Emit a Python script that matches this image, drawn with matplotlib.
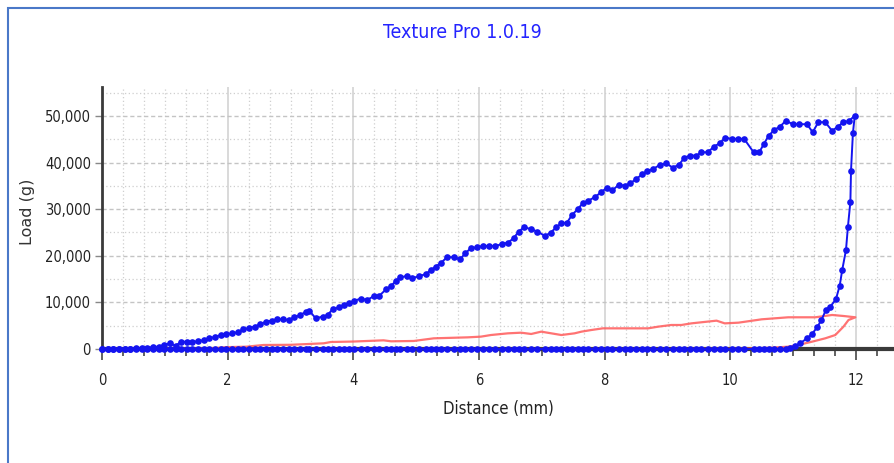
import matplotlib
matplotlib.use("Agg")
import matplotlib.pyplot as plt
from matplotlib import font_manager
from matplotlib.patches import Rectangle
from matplotlib.ticker import MultipleLocator, FuncFormatter

# blue curve, forward stroke (distance mm, load g)
fwd_dist = [0.00, 0.09, 0.18, 0.27, 0.36, 0.45, 0.54, 0.63, 0.72, 0.81, 0.90, 0.99,
            1.08, 1.17, 1.26, 1.35, 1.44, 1.53, 1.62, 1.71, 1.80, 1.89, 1.98, 2.07,
            2.16, 2.25, 2.34, 2.43, 2.52, 2.61, 2.70, 2.79, 2.88, 2.97, 3.06, 3.15,
            3.24, 3.30, 3.40, 3.51, 3.59, 3.67, 3.77, 3.85, 3.93, 4.01, 4.12, 4.22,
            4.33, 4.41, 4.52, 4.60, 4.68, 4.75, 4.86, 4.94, 5.05, 5.15, 5.23, 5.31,
            5.40, 5.49, 5.60, 5.70, 5.78, 5.87, 5.96, 6.06, 6.16, 6.26, 6.37, 6.46,
            6.55, 6.63, 6.72, 6.83, 6.93, 7.05, 7.14, 7.23, 7.31, 7.40, 7.48, 7.57,
            7.65, 7.74, 7.84, 7.94, 8.03, 8.12, 8.22, 8.32, 8.41, 8.50, 8.60, 8.68,
            8.77, 8.88, 8.98, 9.08, 9.18, 9.27, 9.36, 9.46, 9.54, 9.64, 9.74, 9.83,
            9.92, 10.02, 10.12, 10.22, 10.37, 10.46, 10.53, 10.61, 10.70, 10.79, 10.88,
            11.00, 11.09, 11.22, 11.31, 11.40, 11.51, 11.62, 11.71, 11.80, 11.89, 11.98]
fwd_load = [0, 0, 0, 100, 100, 100, 150, 200, 300, 400, 500, 900,
            1200, 700, 1550, 1570, 1570, 1650, 1900, 2300, 2600, 3000, 3150, 3350,
            3600, 4200, 4500, 4800, 5300, 5870, 6100, 6370, 6370, 6220, 6800, 7300,
            7900, 8220, 6580, 6940, 7300, 8510, 8940, 9440, 9800, 10360, 10790, 10520,
            11370, 11370, 12800, 13520, 14650, 15380, 15670, 15170, 15670, 16030, 16900, 17670,
            18530, 19680, 19680, 19250, 20540, 21610, 21820, 22100, 22100, 22100, 22530, 22820,
            23750, 25180, 26120, 25690, 25180, 24250, 24970, 26120, 26970, 27110, 28760, 29980,
            31270, 31830, 32550, 33580, 34570, 34000, 35190, 35050, 35550, 36480, 37480, 38200,
            38630, 39490, 39840, 38910, 39490, 41060, 41490, 41490, 42200, 42200, 43420, 44130,
            45350, 45060, 45060, 45060, 42200, 42200, 43920, 45770, 47000, 47710, 48930,
            48220, 48220, 48220, 46500, 48650, 48650, 46780, 47710, 48650, 48930, 50070]

# blue curve, return stroke: steep drop then flat zero back to start
ret_dist = [11.95, 11.92, 11.91, 11.87, 11.84, 11.78, 11.74, 11.68, 11.59, 11.52,
            11.45, 11.38, 11.30, 11.22, 11.11, 11.03, 10.95]
ret_load = [46300, 38260, 31600, 26100, 21240, 16950, 13590, 10670, 9080, 8370,
            6220, 4650, 3220, 2290, 1220, 640, 280]
flat_dist = [d for d in fwd_dist[::-1] if d < 10.9]
flat_load = [0] * len(flat_dist)

# red curve (no markers)
red_dist = [0.0, 1.5, 1.8, 2.0, 2.3, 2.57, 3.0, 3.53, 3.64, 4.0, 4.48, 4.6, 4.96,
            5.28, 5.82, 6.03, 6.19, 6.46, 6.67, 6.83, 6.99, 7.31, 7.52, 7.63, 7.79,
            7.97, 8.69, 8.85, 9.06, 9.22, 9.38, 9.78, 9.91, 10.13, 10.5, 10.92, 11.35,
            11.62, 11.80, 11.99,
            11.88, 11.80, 11.67, 11.51, 11.30, 11.08, 10.92, 10.66, 10.2, 9.0, 0.0]
red_load = [0, 50, 200, 400, 500, 860, 900, 1220, 1500, 1600, 1860, 1650, 1720,
            2290, 2500, 2650, 3000, 3360, 3500, 3220, 3720, 3000, 3360, 3720, 4080,
            4430, 4430, 4790, 5150, 5150, 5500, 6080, 5500, 5650, 6370, 6800, 6800,
            7300, 7080, 6800,
            6220, 4790, 3000, 2290, 1570, 860, 500, 280, 70, 0, 0]

# narrow font if one is there, else DejaVu condensed
names = {f.name for f in font_manager.fontManager.ttflist}
narrow = 'Liberation Sans Narrow' if 'Liberation Sans Narrow' in names else 'DejaVu Sans'
fs = 13 if narrow != 'DejaVu Sans' else 10.5
fp = font_manager.FontProperties(family=narrow, stretch='condensed', size=fs)

fig = plt.figure(figsize=(8.95, 4.63), dpi=100)
fig.patches.append(Rectangle((8 / 895, -0.1), 1.2, 1.1 - 8 / 463,
                             transform=fig.transFigure, fill=False,
                             edgecolor='#4a78c8', linewidth=1.5))
ax = fig.add_axes([102 / 895, 1 - 349 / 463, 1 - 102 / 895, 262 / 463])

ax.plot(red_dist, red_load, color='#ff5a5a', lw=1.6, alpha=0.85, zorder=3)
blue_x = fwd_dist + ret_dist + flat_dist
blue_y = fwd_load + ret_load + flat_load
ax.plot(blue_x, blue_y, color='#1414f0', lw=1.4, marker='o', markersize=4.8,
        markeredgewidth=0, zorder=4, clip_on=False)

ax.set_xlim(0, 12.62)
ax.set_ylim(0, 56200)

ax.xaxis.set_major_locator(MultipleLocator(2))
ax.xaxis.set_minor_locator(MultipleLocator(1 / 3))
ax.yaxis.set_major_locator(MultipleLocator(10000))
ax.yaxis.set_minor_locator(MultipleLocator(5000))
ax.yaxis.set_major_formatter(FuncFormatter(lambda v, p: f"{int(v):,}"))

ax.grid(which='major', axis='x', color='#cfcfcf', lw=1.1, ls='-')
ax.grid(which='minor', axis='x', color='#cfcfcf', lw=0.9, ls=(0, (1, 2)))
ax.grid(which='major', axis='y', color='#c4c4c4', lw=1.0, ls=(0, (3, 2)))
ax.grid(which='minor', axis='y', color='#cfcfcf', lw=0.9, ls=(0, (1, 2)))
ax.set_axisbelow(True)

for s in ['top', 'right']:
    ax.spines[s].set_visible(False)
ax.spines['left'].set_color('#3a3a3a')
ax.spines['left'].set_linewidth(2)
ax.spines['bottom'].set_color('#3a3a3a')
ax.spines['bottom'].set_linewidth(3)
ax.spines['bottom'].set_zorder(2)

ax.tick_params(axis='x', which='major', length=8, width=1.3, color='#555555',
               pad=9, labelcolor='#222222')
ax.tick_params(axis='x', which='minor', length=5, width=1.3, color='#555555')
ax.tick_params(axis='y', which='major', length=5, width=1.0, color='#888888',
               pad=3, labelcolor='#222222')
ax.tick_params(axis='y', which='minor', length=0)
for lab in ax.get_xticklabels() + ax.get_yticklabels():
    lab.set_fontproperties(fp)

ax.set_xlabel('Distance (mm)', fontproperties=fp, fontsize=12, color='#222222', labelpad=9)
fig.text(28 / 895, 1 - 212 / 463, 'Load (g)', rotation=90, ha='center', va='center',
         fontsize=11.5, color='#333333')
fig.text(462 / 895, 1 - 33 / 463, 'Texture Pro 1.0.19', ha='center', va='center',
         fontproperties=fp, fontsize=14, color='#2424ff')

fig.savefig('out.png', dpi=100)
